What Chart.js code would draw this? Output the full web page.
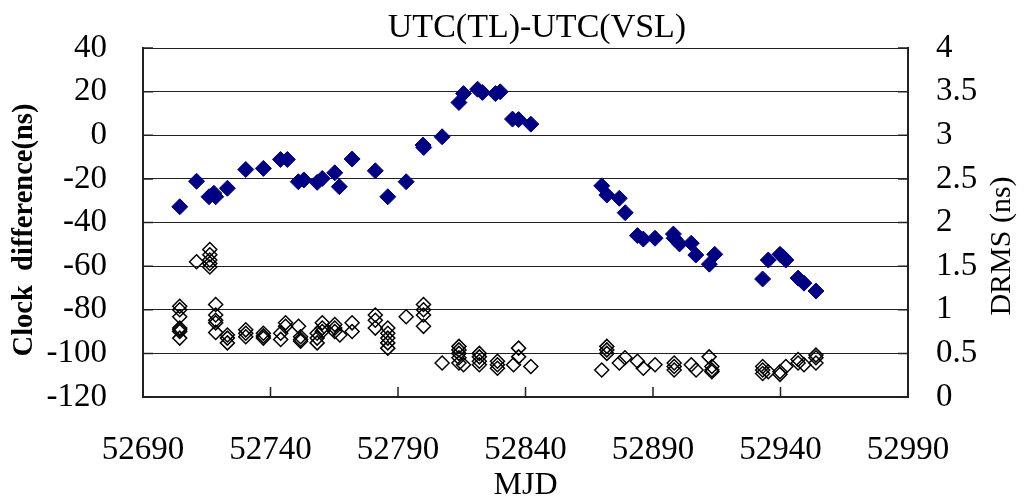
<!DOCTYPE html>
<html>
<head>
<meta charset="utf-8">
<script src="https://cdn.jsdelivr.net/npm/chart.js@4"></script>
<style>
  body { margin: 0; background: #fff; }
  #wrap { width: 1029px; height: 500px; }
</style>
</head>
<body>
<div id="wrap"><canvas id="myChart" width="1029" height="500"></canvas></div>
<script>
//. Clock difference UTC(TL)-UTC(VSL), ns (left axis)
const clockMjd = [52704.4, 52711.0, 52715.9, 52717.8, 52718.5, 52723.1, 52730.3, 52737.2, 52743.9, 52746.6,
  52750.9, 52753.1, 52758.3, 52760.3, 52765.2, 52767.0, 52772.0, 52781.1, 52786.0, 52793.2,
  52799.8, 52800.1, 52807.3, 52813.9, 52815.7, 52821.2, 52823.1, 52828.2, 52830.1, 52834.9,
  52837.3, 52842.1, 52869.9, 52871.9, 52876.8, 52879.1, 52883.9, 52886.2, 52890.8, 52898.0,
  52898.3, 52900.4, 52905.0, 52906.8, 52912.1, 52914.2, 52933.0, 52935.2, 52939.8, 52941.0,
  52942.1, 52946.9, 52949.2, 52953.9];
const clockNs = [-32.8, -21.1, -28.2, -26.6, -28.2, -24.3, -15.7, -15.2, -11.1, -11.1,
  -21.3, -20.5, -21.6, -19.8, -17.2, -23.6, -10.9, -16.3, -28.2, -21.3,
  -4.5, -5.6, -0.7, 15.0, 19.1, 21.1, 19.6, 19.1, 19.9, 7.4,
  7.2, 5.1, -23.2, -27.4, -28.9, -35.5, -46.0, -47.6, -47.2, -45.3,
  -47.2, -49.8, -49.5, -54.9, -59.1, -54.6, -65.9, -57.2, -54.6, -55.8,
  -57.2, -65.5, -67.8, -71.4];

//. DRMS, ns (right axis)
const drmsMjd = [
  52704.4, 52704.4, 52704.4, 52704.4, 52704.4, 52704.4, 52704.4,
  52711.0,
  52716.2, 52716.2, 52716.2, 52716.2, 52716.2,
  52718.5, 52718.5, 52718.5, 52718.5, 52718.5,
  52723.1, 52723.1, 52723.1,
  52730.3, 52730.3, 52730.3,
  52737.2, 52737.2, 52737.2,
  52744.0, 52744.0, 52745.9, 52745.9,
  52751.0, 52751.8, 52751.8, 52751.8,
  52758.3, 52758.3, 52758.3, 52760.3, 52760.3, 52760.3,
  52765.2, 52765.2, 52765.2, 52767.2,
  52772.0, 52772.0,
  52781.1, 52781.1, 52781.1,
  52786.0, 52786.0, 52786.0, 52786.0, 52786.0,
  52793.2,
  52800.0, 52800.0, 52800.0, 52800.0,
  52807.3,
  52813.9, 52813.9, 52813.9, 52813.9, 52813.9, 52815.7,
  52821.9, 52821.9, 52821.9, 52821.9,
  52829.0, 52829.0, 52829.0,
  52835.3, 52837.3, 52837.3, 52842.1,
  52869.9, 52871.9, 52871.9, 52871.9,
  52876.8, 52879.0, 52883.9, 52886.2, 52890.8,
  52898.3, 52898.3, 52898.3, 52905.0, 52906.9,
  52912.0, 52913.1, 52913.1, 52913.1,
  52933.0, 52933.0, 52933.0, 52935.2,
  52939.8, 52939.8, 52942.1,
  52946.9, 52946.9, 52949.2,
  52953.9, 52953.9, 52953.9];
const drmsNs = [
  1.04, 1.0, 0.92, 0.79, 0.77, 0.75, 0.675,
  1.55,
  1.69, 1.63, 1.57, 1.53, 1.49,
  1.06, 0.94, 0.88, 0.85, 0.74,
  0.71, 0.675, 0.62,
  0.77, 0.73, 0.69,
  0.73, 0.70, 0.675,
  0.73, 0.66, 0.85, 0.81,
  0.81, 0.69, 0.66, 0.64,
  0.73, 0.675, 0.62, 0.85, 0.79, 0.75,
  0.83, 0.79, 0.75, 0.71,
  0.85, 0.75,
  0.94, 0.88, 0.79,
  0.79, 0.73, 0.675, 0.62, 0.56,
  0.92,
  1.06, 1.0, 0.94, 0.81,
  0.39,
  0.58, 0.54, 0.50, 0.45, 0.39, 0.37,
  0.50, 0.46, 0.41, 0.37,
  0.41, 0.37, 0.33,
  0.37, 0.56, 0.46, 0.35,
  0.31, 0.58, 0.54, 0.50,
  0.39, 0.45, 0.41, 0.33, 0.37,
  0.39, 0.35, 0.31, 0.37, 0.31,
  0.46, 0.35, 0.31, 0.29,
  0.35, 0.31, 0.27, 0.29,
  0.29, 0.26, 0.35,
  0.43, 0.39, 0.37,
  0.48, 0.45, 0.39];

//. Axis settings
const mjdTicks = { min: 52690, max: 52990, step: 50 };
const clockTicks = { min: -120, max: 40, step: 20 };
const drmsTicks = { min: 0, max: 4, step: 0.5 };

const serif = "'Liberation Serif', 'Times New Roman', serif";
const ctx = document.getElementById("myChart");

//. Titles and the small inner tick marks
const extras = {
  id: "extras",
  afterDraw(chart) {
    const c = chart.ctx,
      area = chart.chartArea,
      sx = chart.scales.x,
      sy = chart.scales.y,
      sy2 = chart.scales.y2;
    c.save();
    c.strokeStyle = "#222";
    c.lineWidth = 1.5;
    c.beginPath();
    sx.ticks.forEach((t) => {
      const px = sx.getPixelForValue(t.value);
      c.moveTo(px, area.bottom);
      c.lineTo(px, area.bottom - 10);
    });
    sy.ticks.forEach((t) => {
      const py = sy.getPixelForValue(t.value);
      c.moveTo(area.left, py);
      c.lineTo(area.left + 10, py);
    });
    sy2.ticks.forEach((t) => {
      const py = sy2.getPixelForValue(t.value);
      c.moveTo(area.right, py);
      c.lineTo(area.right - 10, py);
    });
    c.stroke();

    c.fillStyle = "#000";
    c.textAlign = "center";
    c.textBaseline = "alphabetic";
    c.font = "34px " + serif;
    c.fillText("UTC(TL)-UTC(VSL)", 537, 37);

    c.font = "32px " + serif;
    c.fillText("MJD", (area.left + area.right) / 2, 494);

    c.save();
    c.font = "bold 28.5px " + serif;
    c.translate(32, 230);
    c.rotate(-Math.PI / 2);
    c.fillText("Clock  difference(ns)", 0, 0);
    c.restore();

    c.font = "30px " + serif;
    c.translate(1010, 246);
    c.rotate(-Math.PI / 2);
    c.fillText("DRMS (ns)", 0, 0);
    c.restore();
  },
};

let myChart = new Chart(ctx, {
  type: "scatter",
  data: {
    datasets: [
      {
        label: "Clock difference",
        data: clockMjd.map((m, i) => ({ x: m, y: clockNs[i] })),
        yAxisID: "y",
        pointStyle: "rectRot",
        pointRadius: 8,
        pointHoverRadius: 8,
        backgroundColor: "#000080",
        borderColor: "#000080",
        borderWidth: 1,
      },
      {
        label: "DRMS",
        data: drmsMjd.map((m, i) => ({ x: m, y: drmsNs[i] })),
        yAxisID: "y2",
        pointStyle: "rectRot",
        pointRadius: 7,
        pointHoverRadius: 7,
        backgroundColor: "rgba(0,0,0,0)",
        borderColor: "#000",
        borderWidth: 1.5,
      },
    ],
  },
  options: {
    responsive: false,
    animation: false,
    devicePixelRatio: 1,
    layout: { padding: { top: 48, left: 0, right: 0, bottom: 0 } },
    plugins: {
      legend: { display: false },
      tooltip: { enabled: false },
      title: { display: false },
    },
    scales: {
      x: {
        type: "linear",
        min: mjdTicks.min,
        max: mjdTicks.max,
        afterFit: (s) => { s.height = 103; },
        ticks: {
          stepSize: mjdTicks.step,
          maxRotation: 0,
          autoSkip: false,
          padding: 34,
          color: "#000",
          font: { family: serif, size: 33 },
          callback: (v) => String(v),
        },
        grid: { drawOnChartArea: false, drawTicks: false },
        border: { display: true, color: "#222", width: 2 },
      },
      y: {
        position: "left",
        min: clockTicks.min,
        max: clockTicks.max,
        afterFit: (s) => { s.width = 143; },
        ticks: {
          stepSize: clockTicks.step,
          padding: 0,
          color: "#000",
          font: { family: serif, size: 33 },
          callback: (v) => String(v),
        },
        grid: { color: "#222", lineWidth: 1, drawTicks: true, tickLength: 36, tickColor: "rgba(0,0,0,0)" },
        border: { display: true, color: "#222", width: 2 },
      },
      y2: {
        position: "right",
        min: drmsTicks.min,
        max: drmsTicks.max,
        afterFit: (s) => { s.width = 121; },
        ticks: {
          stepSize: drmsTicks.step,
          padding: 0,
          color: "#000",
          font: { family: serif, size: 33 },
          callback: (v) => String(v),
        },
        grid: { drawOnChartArea: false, drawTicks: true, tickLength: 28, tickColor: "rgba(0,0,0,0)" },
        border: { display: true, color: "#222", width: 2 },
      },
    },
  },
  plugins: [extras],
});
</script>
</body>
</html>
